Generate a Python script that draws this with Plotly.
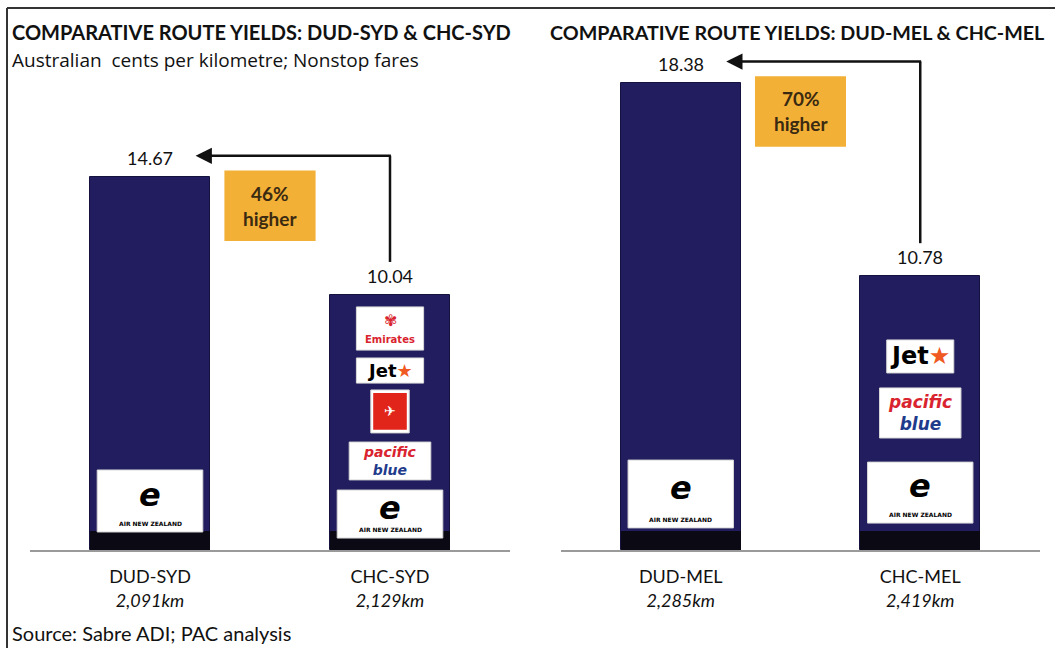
import plotly.graph_objects as go

# ---------------- data ----------------
left_categories = ["DUD-SYD", "CHC-SYD"]
left_distances = ["2,091km", "2,129km"]
left_values = [14.67, 10.04]
left_premium = "46%"

right_categories = ["DUD-MEL", "CHC-MEL"]
right_distances = ["2,285km", "2,419km"]
right_values = [18.38, 10.78]
right_premium = "70%"

left_title = "COMPARATIVE ROUTE YIELDS: DUD-SYD & CHC-SYD"
right_title = "COMPARATIVE ROUTE YIELDS: DUD-MEL & CHC-MEL"
subtitle = "Australian  cents per kilometre; Nonstop fares"
source = "Source: Sabre ADI; PAC analysis"

# airline logos shown on each bar (top to bottom)
left_logos = [["airnz"], ["emirates", "jetstar", "qantas", "pacific", "airnz"]]
right_logos = [["airnz"], ["jetstar", "pacific", "airnz"]]

# ---------------- styling / layout ----------------
FONT = "Lato"
NAVY = "#221d5e"
ORANGE = "#f3b036"
YMAX = 20
BASE_BAND = 0.75

# logo box vertical spans (data units) keyed by panel/bar
logo_spans = {
    ("L", 0): [(0.71, 3.15)],
    ("L", 1): [(7.87, 9.57), (6.57, 7.56), (4.61, 6.30), (2.76, 4.25), (0.47, 2.36)],
    ("R", 0): [(0.87, 3.54)],
    ("R", 1): [(6.97, 8.27), (4.41, 6.38), (1.06, 3.46)],
}
logo_half = {"airnz": 0.22, "emirates": 0.14, "jetstar": 0.14, "qantas": 0.08, "pacific": 0.17}

fig = go.Figure()
shapes = []
annos = []

panels = [
    ("L", "x", "y", left_categories, left_distances, left_values, left_premium, left_logos),
    ("R", "x2", "y2", right_categories, right_distances, right_values, right_premium, right_logos),
]

for key, xa, ya, cats, dists, vals, prem, logos in panels:
    xs = list(range(len(cats)))
    fig.add_trace(go.Bar(x=xs, y=vals, xaxis=xa, yaxis=ya, width=0.5,
                         marker=dict(color=NAVY, line=dict(color="#15123f", width=1)),
                         hoverinfo="skip", showlegend=False))
    fig.add_trace(go.Bar(x=xs, y=[BASE_BAND] * len(xs), xaxis=xa, yaxis=ya, width=0.5,
                         marker=dict(color="#0b0a14", line=dict(width=0)),
                         hoverinfo="skip", showlegend=False))
    # value labels
    for i, v in enumerate(vals):
        annos.append(dict(x=i, y=v, xref=xa, yref=ya, text=f"{v:.2f}", showarrow=False,
                          yanchor="bottom", yshift=6, font=dict(family=FONT, size=18, color="#111")))
    # connector from small bar up and across to big bar
    top = vals[0] + 0.85
    shapes.append(dict(type="line", xref=xa, yref=ya, x0=1, x1=1, y0=vals[1] + 1.3, y1=top,
                       line=dict(color="#111", width=2.5)))
    annos.append(dict(x=0.19, y=top, ax=1.01, ay=top, xref=xa, yref=ya, axref=xa, ayref=ya,
                      text="", showarrow=True, arrowhead=2, arrowsize=1.3, arrowwidth=2.5,
                      arrowcolor="#111"))
    # premium box
    btop = vals[0] + 0.27
    shapes.append(dict(type="rect", xref=xa, yref=ya, x0=0.31, x1=0.69, y0=btop - 2.77, y1=btop,
                       fillcolor=ORANGE, line=dict(width=0), layer="above"))
    annos.append(dict(x=0.5, y=btop - 1.385, xref=xa, yref=ya, showarrow=False,
                      text=f"<b>{prem}</b><br><b>higher</b>",
                      font=dict(family=FONT, size=19, color="#3a2a12")))
    # logos
    for bi, names in enumerate(logos):
        for name, (y0, y1) in zip(names, logo_spans[(key, bi)]):
            hw = logo_half[name]
            shapes.append(dict(type="rect", xref=xa, yref=ya, x0=bi - hw, x1=bi + hw, y0=y0, y1=y1,
                               fillcolor="white", line=dict(color="#d8d8d8", width=1), layer="above"))
            ym = (y0 + y1) / 2
            if name == "airnz":
                annos.append(dict(x=bi, y=ym + 0.25, xref=xa, yref=ya, showarrow=False,
                                  text="<b><i>e</i></b>", font=dict(family="DejaVu Sans", size=32, color="black")))
                annos.append(dict(x=bi, y=y0 + 0.35, xref=xa, yref=ya, showarrow=False,
                                  text="<b>AIR NEW ZEALAND</b>", font=dict(family="DejaVu Sans", size=6, color="black")))
            elif name == "jetstar":
                annos.append(dict(x=bi, y=ym, xref=xa, yref=ya, showarrow=False,
                                  text="<b>Jet</b><span style='color:#f05a22'>★</span>",
                                  font=dict(family="DejaVu Sans", size=24 if key == "R" else 18, color="black")))
            elif name == "pacific":
                annos.append(dict(x=bi, y=ym, xref=xa, yref=ya, showarrow=False,
                                  text="<b><i><span style='color:#d9232e'>pacific</span></i></b><br>"
                                       "<b><i><span style='color:#1f3c8c'>blue</span></i></b>",
                                  font=dict(family="DejaVu Sans", size=17 if key == "R" else 14)))
            elif name == "emirates":
                annos.append(dict(x=bi, y=ym + 0.3, xref=xa, yref=ya, showarrow=False,
                                  text="✾", font=dict(family="DejaVu Sans", size=16, color="#d9232e")))
                annos.append(dict(x=bi, y=y0 + 0.4, xref=xa, yref=ya, showarrow=False,
                                  text="<b>Emirates</b>", font=dict(family="DejaVu Sans", size=10, color="#d9232e")))
            elif name == "qantas":
                shapes.append(dict(type="rect", xref=xa, yref=ya, x0=bi - hw + 0.01, x1=bi + hw - 0.01,
                                   y0=y0 + 0.12, y1=y1 - 0.12, fillcolor="#e1251b",
                                   line=dict(width=0), layer="above"))
                annos.append(dict(x=bi, y=ym, xref=xa, yref=ya, showarrow=False,
                                  text="<b>✈</b>", font=dict(family="DejaVu Sans", size=14, color="white")))

# frame
shapes.append(dict(type="line", xref="paper", yref="paper", x0=7 / 1055, x1=1.01, y0=1 - 8 / 648, y1=1 - 8 / 648,
                   line=dict(color="#333", width=2)))
shapes.append(dict(type="line", xref="paper", yref="paper", x0=7 / 1055, x1=7 / 1055, y0=-0.01, y1=1 - 8 / 648,
                   line=dict(color="#333", width=2)))

# titles and notes
def ptext(x, y, text, size, bold=False, family=FONT):
    annos.append(dict(x=x / 1055, y=1 - y / 648, xref="paper", yref="paper", showarrow=False,
                      xanchor="left", yanchor="middle", text=f"<b>{text}</b>" if bold else text,
                      font=dict(family=family, size=size, color="#111")))

ptext(10, 32, left_title, 20, bold=True)
ptext(548, 32, right_title, 19.7, bold=True)
ptext(10, 60, subtitle, 19, family="Open Sans")
ptext(10, 633, source, 20)

ydom = [98 / 648, (648 - (550 - YMAX * 25.4)) / 648]
xcommon = dict(range=[-0.5, 1.5], showgrid=False, zeroline=False, showline=True, linecolor="#9a9a9a",
               linewidth=1.5, ticks="", tickfont=dict(family=FONT, size=18, color="#111"),
               ticklabelstandoff=10)
ycommon = dict(range=[0, YMAX], domain=ydom, visible=False, showgrid=False, zeroline=False)

fig.update_layout(
    width=1055, height=648, margin=dict(l=0, r=0, t=0, b=0),
    paper_bgcolor="white", plot_bgcolor="white", barmode="overlay", bargap=0,
    showlegend=False,
    xaxis=dict(domain=[30 / 1055, 510 / 1055], tickvals=[0, 1],
               ticktext=[f"{c}<br><i>{d}</i>" for c, d in zip(left_categories, left_distances)], **xcommon),
    xaxis2=dict(domain=[561 / 1055, 1040 / 1055], tickvals=[0, 1], anchor="y2",
                ticktext=[f"{c}<br><i>{d}</i>" for c, d in zip(right_categories, right_distances)], **xcommon),
    yaxis=dict(anchor="x", **ycommon),
    yaxis2=dict(anchor="x2", **ycommon),
    shapes=shapes, annotations=annos,
)

fig.write_html("out.html")
